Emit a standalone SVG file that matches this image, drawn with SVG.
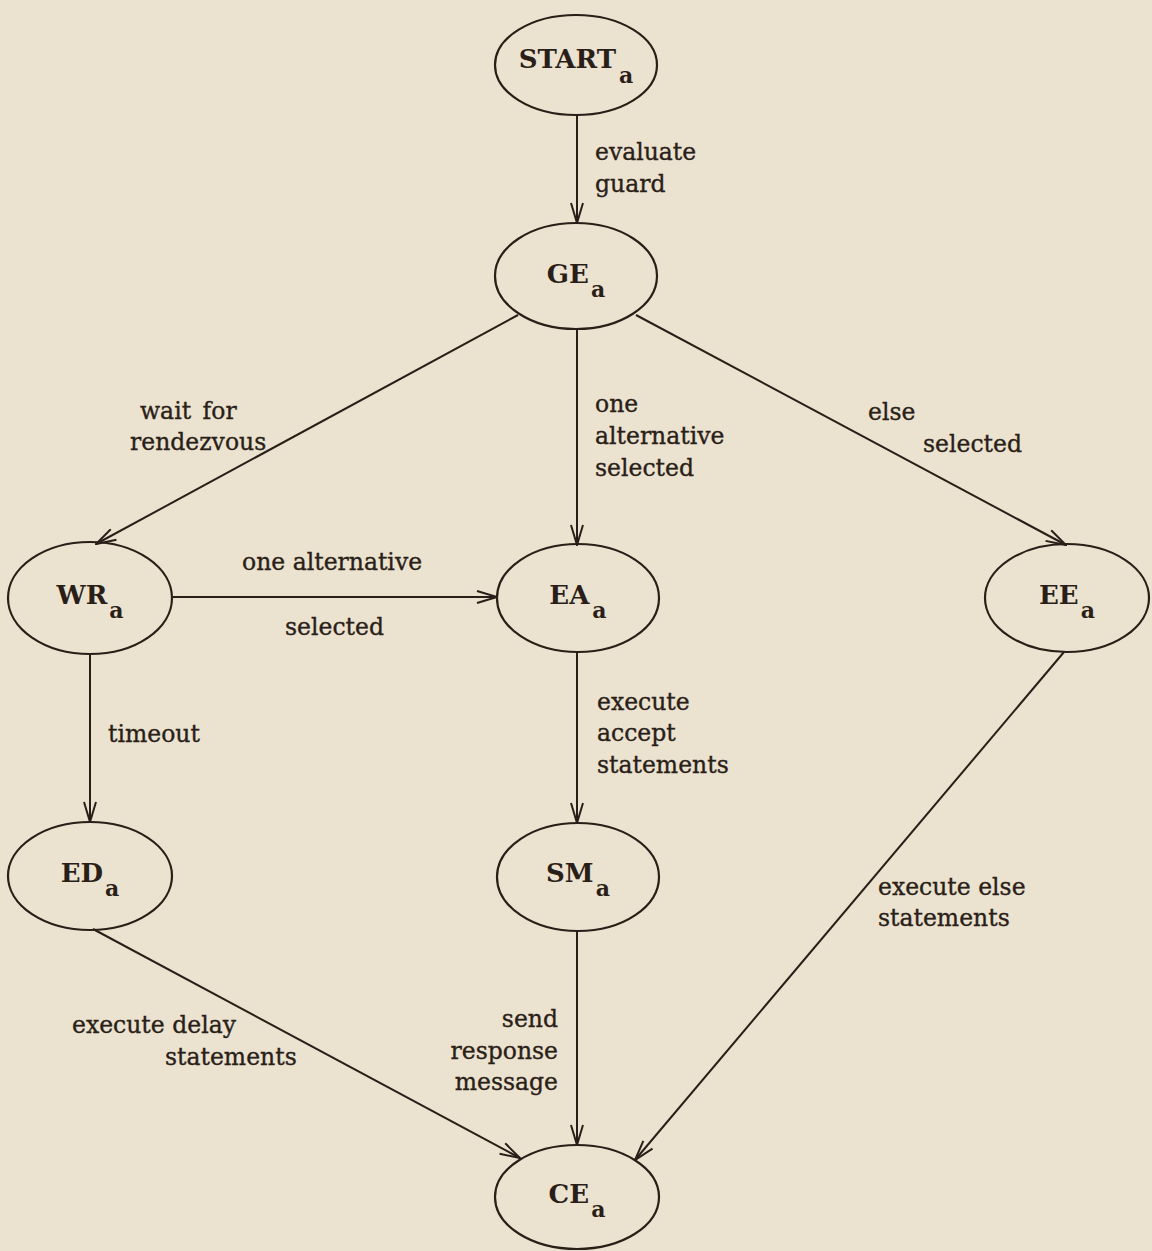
<svg xmlns="http://www.w3.org/2000/svg" width="1152" height="1251" viewBox="0 0 1152 1251">
  <style>
    .node ellipse { fill: none; stroke: #2a1f18; stroke-width: 2.2; }
    .node text { font-family: "DejaVu Serif", "Liberation Serif", serif; font-weight: bold; font-size: 26px; fill: #2a1f18; text-anchor: middle; }
    .node tspan.sub { font-size: 22px; }
    .edge { stroke: #2a1f18; stroke-width: 2; fill: none; marker-end: url(#arrow); }
    .lbl { font-family: "DejaVu Serif", "Liberation Serif", serif; font-size: 23.5px; fill: #2a1f18; stroke: #2a1f18; stroke-width: 0.35; }
    .r { text-anchor: end; }
  </style>
  <defs>
    <marker id="arrow" markerUnits="userSpaceOnUse" viewBox="0 0 22 14" refX="21" refY="7" markerWidth="22" markerHeight="14" orient="auto">
      <path d="M1,1 L21,7 L1,13" fill="none" stroke="#2a1f18" stroke-width="2"/>
    </marker>
  </defs>

  <rect width="1152" height="1251" fill="#ECE2D0"/>

  <!-- transitions -->
  <g id="connectors">
    <line class="edge" x1="577" y1="115" x2="577" y2="223"/>
    <line class="edge" x1="518" y1="315" x2="96" y2="544"/>
    <line class="edge" x1="577" y1="329" x2="577" y2="545"/>
    <line class="edge" x1="636" y1="315" x2="1066" y2="545"/>
    <line class="edge" x1="173" y1="597" x2="497" y2="597"/>
    <line class="edge" x1="90" y1="655" x2="90" y2="822"/>
    <line class="edge" x1="577" y1="652" x2="577" y2="823"/>
    <line class="edge" x1="93" y1="929" x2="520" y2="1158"/>
    <line class="edge" x1="577" y1="930" x2="577" y2="1145"/>
    <line class="edge" x1="1064" y1="652" x2="635" y2="1160"/>
  </g>

  <!-- transition labels -->
  <g id="labels">
    <text class="lbl" x="595" y="160">evaluate</text>
    <text class="lbl" x="595" y="192">guard</text>

    <text class="lbl" x="140" y="419" word-spacing="4">wait for</text>
    <text class="lbl" x="130" y="450">rendezvous</text>

    <text class="lbl" x="595" y="412">one</text>
    <text class="lbl" x="595" y="444">alternative</text>
    <text class="lbl" x="595" y="476">selected</text>

    <text class="lbl" x="868" y="420">else</text>
    <text class="lbl" x="923" y="452">selected</text>

    <text class="lbl" x="242" y="570">one alternative</text>
    <text class="lbl" x="285" y="635">selected</text>

    <text class="lbl" x="108" y="742">timeout</text>

    <text class="lbl" x="597" y="710">execute</text>
    <text class="lbl" x="597" y="741">accept</text>
    <text class="lbl" x="597" y="773">statements</text>

    <text class="lbl" x="72" y="1033">execute delay</text>
    <text class="lbl" x="165" y="1065">statements</text>

    <text class="lbl r" x="558" y="1027">send</text>
    <text class="lbl r" x="558" y="1059">response</text>
    <text class="lbl r" x="558" y="1090">message</text>

    <text class="lbl" x="878" y="895">execute else</text>
    <text class="lbl" x="878" y="926">statements</text>
  </g>

  <!-- states -->
  <g id="START" class="node">
    <ellipse cx="576" cy="65" rx="81" ry="50"/>
    <text x="576" y="68">START<tspan class="sub" dx="3" dy="15">a</tspan></text>
  </g>
  <g id="GE" class="node">
    <ellipse cx="576" cy="276" rx="81" ry="53"/>
    <text x="576" y="283">GE<tspan class="sub" dx="2" dy="14">a</tspan></text>
  </g>
  <g id="WR" class="node">
    <ellipse cx="90" cy="598" rx="82" ry="56"/>
    <text x="90" y="604">WR<tspan class="sub" dx="2" dy="14">a</tspan></text>
  </g>
  <g id="EA" class="node">
    <ellipse cx="578" cy="598" rx="81" ry="54"/>
    <text x="578" y="604">EA<tspan class="sub" dx="3" dy="14">a</tspan></text>
  </g>
  <g id="EE" class="node">
    <ellipse cx="1067" cy="598" rx="82" ry="54"/>
    <text x="1067" y="604">EE<tspan class="sub" dx="2" dy="14">a</tspan></text>
  </g>
  <g id="ED" class="node">
    <ellipse cx="90" cy="876" rx="82" ry="54"/>
    <text x="90" y="882">ED<tspan class="sub" dx="2" dy="14">a</tspan></text>
  </g>
  <g id="SM" class="node">
    <ellipse cx="578" cy="877" rx="81" ry="54"/>
    <text x="578" y="882">SM<tspan class="sub" dx="2" dy="14">a</tspan></text>
  </g>
  <g id="CE" class="node">
    <ellipse cx="577" cy="1197" rx="82" ry="52"/>
    <text x="577" y="1203">CE<tspan class="sub" dx="2" dy="14">a</tspan></text>
  </g>
</svg>
